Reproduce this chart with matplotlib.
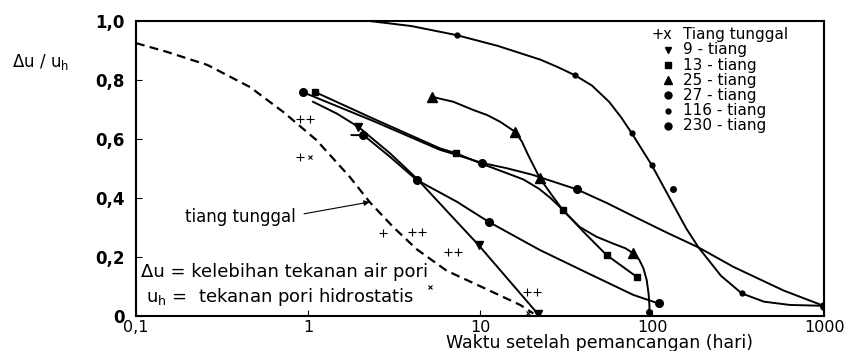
import matplotlib.pyplot as plt
from matplotlib.ticker import NullLocator

plt.rcParams['font.family'] = 'DejaVu Sans'
plt.rcParams['mathtext.fontset'] = 'dejavusans'

# single pile (dashed reference curve) and its measured points
single_x = [0.1, 0.15, 0.26, 0.46, 0.72, 1.12, 1.75, 2.28, 3.13, 4.28, 6.4, 10.4, 17.1, 20.4]
single_y = [0.924, 0.895, 0.85, 0.775, 0.69, 0.595, 0.47, 0.385, 0.3, 0.225, 0.152, 0.095, 0.036, 0.007]
plus_x = [0.9, 1.03, 0.9, 2.74, 4.0, 4.58, 6.55, 7.48, 18.7, 21.4]
plus_y = [0.668, 0.668, 0.538, 0.279, 0.284, 0.284, 0.216, 0.216, 0.081, 0.081]
cross_x = [1.03, 5.12, 19.0]
cross_y = [0.538, 0.098, 0.008]

# pile groups: curve points, indices that carry a marker
t9_x = [1.07, 1.47, 1.96, 3.0, 4.28, 6.4, 9.8, 14.2, 21.7]
t9_y = [0.725, 0.685, 0.64, 0.55, 0.465, 0.355, 0.239, 0.13, 0.005]
t9_mark = [2, 6, 8]

t13_x = [1.1, 2.39, 5.85, 7.2, 10.2, 17.8, 22, 25.5, 30.5, 39.9, 54.4, 81.5]
t13_y = [0.758, 0.668, 0.567, 0.551, 0.515, 0.462, 0.43, 0.4, 0.357, 0.284, 0.205, 0.131]
t13_mark = [0, 3, 8, 10, 11]

t25_x = [5.24, 7, 9.15, 11, 13.1, 16, 17.5, 19, 22.3, 26, 30.5, 38, 47.6, 60, 70, 77.7, 84, 89, 93, 95.5, 96.5, 96]
t25_y = [0.742, 0.725, 0.697, 0.68, 0.657, 0.623, 0.59, 0.545, 0.465, 0.41, 0.355, 0.3, 0.267, 0.243, 0.228, 0.211,
         0.19, 0.16, 0.12, 0.07, 0.03, 0.013]
t25_mark = [0, 5, 8, 15]

t27_x = [1.79, 2.1, 3.0, 4.28, 7.33, 11.2, 22.3, 43.6, 77.7, 109]
t27_y = [0.612, 0.612, 0.538, 0.46, 0.386, 0.318, 0.222, 0.14, 0.07, 0.041]
t27_mark = [1, 3, 5, 9]

t116_x = [2.2, 3.98, 7.32, 12.6, 22.4, 28.2, 35.6, 44.7, 56.2, 66.1, 76.2, 99.5, 126, 158, 186, 251, 332, 447,
          631, 991]
t116_y = [1.0, 0.982, 0.951, 0.915, 0.868, 0.843, 0.815, 0.78, 0.725, 0.672, 0.618, 0.51, 0.4, 0.295, 0.231,
          0.135, 0.075, 0.047, 0.036, 0.033]
t116_mark = [2, 6, 10, 11, 16]
t116_extra_x = [133, 96]
t116_extra_y = [0.428, 0.013]

t230_x = [0.93, 2.39, 5.85, 7.2, 10.2, 14.2, 20, 28, 36.5, 54.4, 77.7, 122, 186, 297, 580, 991]
t230_y = [0.758, 0.66, 0.562, 0.546, 0.518, 0.5, 0.478, 0.45, 0.428, 0.382, 0.337, 0.281, 0.231, 0.165, 0.085,
          0.033]
t230_mark = [0, 4, 8, 15]

legend_labels = ['Tiang tunggal', '9 - tiang', '13 - tiang', '25 - tiang', '27 - tiang', '116 - tiang', '230 - tiang']
legend_markers = [None, 'v', 's', '^', 'o', 'o', 'o']
legend_sizes = [0, 4.5, 4.5, 6, 5, 3.5, 5]

xticks = [0.1, 1, 10, 100, 1000]
xtick_labels = ['0,1', '1', '10', '100', '1000']
yticks = [0, 0.2, 0.4, 0.6, 0.8, 1.0]
ytick_labels = ['0', '0,2', '0,4', '0,6', '0,8', '1,0']

fig = plt.figure(figsize=(8.55, 3.51), dpi=100)
ax = fig.add_axes([0.159, 0.101, 0.805, 0.840])
ax.set_xscale('log')
ax.set_xlim(0.1, 1000)
ax.set_ylim(0, 1.0)

ax.plot(single_x, single_y, color='k', lw=1.6, dashes=(4, 2.4))
ax.plot(plus_x, plus_y, '+', color='k', ms=5.5, mew=0.8)
ax.plot(cross_x, cross_y, 'x', color='k', ms=3.5, mew=0.8)

series = [
    (t9_x, t9_y, t9_mark, 'v', 6),
    (t13_x, t13_y, t13_mark, 's', 5),
    (t25_x, t25_y, t25_mark, '^', 6.5),
    (t27_x, t27_y, t27_mark, 'o', 5.5),
    (t116_x, t116_y, t116_mark, 'o', 3.5),
    (t230_x, t230_y, t230_mark, 'o', 5.5),
]
for xs, ys, idx, mk, ms in series:
    ax.plot(xs, ys, color='k', lw=1.4, solid_joinstyle='round')
    ax.plot([xs[i] for i in idx], [ys[i] for i in idx], mk, color='k', ms=ms)
ax.plot(t116_extra_x, t116_extra_y, 'o', color='k', ms=4)

# annotations
ax.annotate('tiang tunggal', xy=(single_x[7], single_y[7]), xytext=(0.193, 0.334),
            fontsize=12, va='center',
            arrowprops=dict(arrowstyle='-|>', color='k', lw=0.8, mutation_scale=8,
                            relpos=(1.0, 0.6), shrinkA=4, shrinkB=0))
ax.text(0.008, 0.148, 'Δu = kelebihan tekanan air pori', transform=ax.transAxes,
        fontsize=13, va='center')
ax.text(0.015, 0.064, r'u$_{\mathregular{h}}$ =  tekanan pori hidrostatis',
        transform=ax.transAxes, fontsize=13, va='center')

# legend written out by hand
for i, (lab, mk, ms) in enumerate(zip(legend_labels, legend_markers, legend_sizes)):
    yy = (315.5 - (34.5 + 15.2 * i)) / 295
    if mk is None:
        ax.text(0.749, yy, '+x', transform=ax.transAxes, fontsize=10.5, va='center')
    else:
        ax.plot([0.773], [yy], mk, color='k', ms=ms, transform=ax.transAxes, clip_on=False)
    ax.text(0.795, yy, lab, transform=ax.transAxes, fontsize=11, va='center')

ax.set_xticks(xticks)
ax.set_xticklabels(xtick_labels, fontsize=11.5)
ax.xaxis.set_minor_locator(NullLocator())
ax.set_yticks(yticks)
ax.set_yticklabels(ytick_labels, fontsize=12, fontweight='bold')
ax.tick_params(axis='both', direction='in', length=4, width=0.8)
ax.tick_params(axis='y', pad=8)
ax.tick_params(axis='x', pad=3)
for s in ax.spines.values():
    s.set_linewidth(1.5)

fig.text(0.014, 1 - 62 / 351, r'Δu / u$_{\mathregular{h}}$', fontsize=12, va='center')
fig.text(600 / 855, 1 - 343.5 / 351, 'Waktu setelah pemancangan (hari)', ha='center', va='center', fontsize=12.5)

fig.savefig('out.png', dpi=100)
